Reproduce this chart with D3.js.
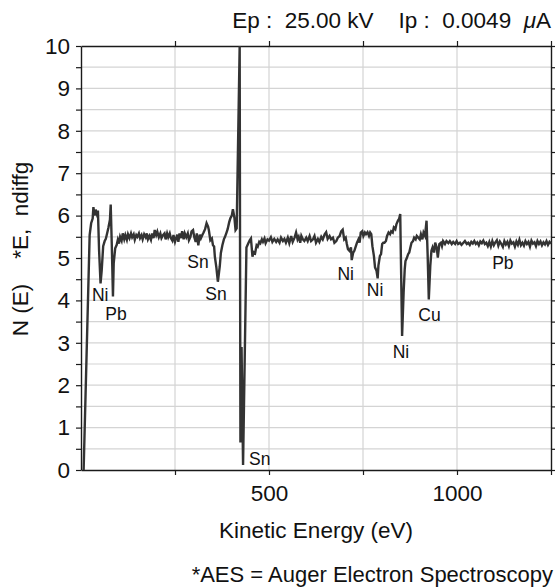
<!DOCTYPE html>
<html>
<head>
<meta charset="utf-8">
<script src="https://cdn.jsdelivr.net/npm/d3@7/dist/d3.min.js"></script>
<style>
  html, body { margin: 0; padding: 0; background: #fff; }
  svg { display: block; font-family: "Liberation Sans", Arial, Helvetica, sans-serif; }
</style>
</head>
<body>
<svg id="chart" width="555" height="588"></svg>
<script>
// AES survey spectrum: kinetic energy (eV) and N(E)*E intensity
const energy = [
  7, 23, 27, 31, 33, 36, 39, 42, 45, 48, 52, 55, 59, 63, 66, 70, 73, 77, 79, 82,
  85, 87, 91, 95, 98, 101, 104, 108, 111, 115, 118, 122, 125, 129, 133, 136, 140, 143, 147, 150,
  154, 157, 161, 164, 168, 172, 175, 178, 182, 186, 189, 193, 196, 200, 203, 207, 211, 214, 218, 222,
  225, 229, 232, 236, 239, 243, 246, 250, 256, 259, 262, 266, 269, 273, 276, 280, 284, 287, 291, 294,
  298, 301, 305, 308, 312, 316, 319, 323, 326, 330, 334, 338, 340, 344, 348, 351, 354, 356, 360, 364,
  369, 372, 376, 380, 383, 387, 390, 394, 397, 401, 404, 408, 411, 414, 422, 424, 427, 431, 440, 445,
  449, 452, 456, 459, 463, 467, 470, 474, 477, 481, 484, 488, 491, 496, 500, 505, 509, 514, 519, 523,
  528, 532, 537, 541, 545, 550, 554, 559, 563, 568, 572, 576, 579, 583, 586, 590, 594, 599, 603, 608,
  612, 617, 621, 625, 630, 634, 639, 643, 648, 652, 656, 661, 665, 670, 674, 679, 683, 688, 692, 696,
  700, 704, 707, 710, 714, 718, 720, 724, 727, 731, 734, 738, 741, 744, 748, 751, 755, 758, 762, 766,
  769, 772, 775, 779, 782, 786, 789, 791, 795, 798, 801, 804, 807, 811, 814, 818, 822, 825, 829, 832,
  836, 839, 843, 846, 849, 854, 858, 861, 863, 867, 870, 873, 876, 879, 883, 886, 890, 893, 897, 901,
  904, 908, 911, 915, 919, 922, 925, 929, 932, 935, 939, 942, 946, 949, 953, 957, 960, 963, 968, 972,
  977, 981, 986, 990, 995, 999, 1003, 1008, 1012, 1017, 1021, 1026, 1030, 1034, 1038, 1042, 1046, 1050, 1054, 1058,
  1062, 1066, 1070, 1074, 1078, 1082, 1086, 1090, 1094, 1098, 1102, 1106, 1110, 1114, 1118, 1122, 1126, 1130, 1134, 1138,
  1142, 1146, 1150, 1154, 1158, 1162, 1166, 1170, 1174, 1178, 1182, 1186, 1190, 1194, 1198, 1202, 1206, 1210, 1214, 1218,
  1222, 1226, 1230, 1234, 1238, 1242, 1246, 1250
];
const nE = [
  0.00, 5.54, 5.82, 5.93, 6.20, 6.00, 6.14, 6.04, 6.12, 5.20, 4.40, 4.70, 5.28, 5.40, 5.45, 5.60, 5.72, 5.90, 6.26, 5.27,
  4.09, 4.88, 5.23, 5.31, 5.43, 5.34, 5.50, 5.41, 5.58, 5.44, 5.54, 5.43, 5.56, 5.47, 5.58, 5.49, 5.56, 5.43, 5.54, 5.50,
  5.58, 5.47, 5.54, 5.44, 5.56, 5.49, 5.58, 5.44, 5.52, 5.43, 5.58, 5.47, 5.66, 5.54, 5.62, 5.49, 5.58, 5.47, 5.54, 5.58,
  5.44, 5.58, 5.49, 5.58, 5.47, 5.41, 5.54, 5.38, 5.55, 5.38, 5.58, 5.47, 5.63, 5.44, 5.58, 5.49, 5.58, 5.42, 5.50, 5.63,
  5.66, 5.50, 5.38, 5.58, 5.30, 5.55, 5.47, 5.55, 5.60, 5.68, 5.82, 5.74, 5.66, 5.42, 5.46, 5.30, 5.27, 5.03, 4.78, 4.44,
  4.80, 5.12, 5.30, 5.44, 5.50, 5.60, 5.68, 5.84, 5.93, 6.00, 6.15, 5.95, 5.66, 5.70, 10.00, 0.65, 2.90, 0.12, 5.25, 5.35,
  5.42, 5.46, 5.03, 5.14, 5.11, 5.30, 5.27, 5.38, 5.35, 5.44, 5.38, 5.46, 5.35, 5.44, 5.41, 5.49, 5.38, 5.45, 5.38, 5.44,
  5.36, 5.48, 5.40, 5.45, 5.36, 5.48, 5.35, 5.52, 5.38, 5.48, 5.60, 5.44, 5.50, 5.36, 5.52, 5.44, 5.40, 5.48, 5.40, 5.52,
  5.40, 5.44, 5.52, 5.36, 5.45, 5.38, 5.50, 5.44, 5.56, 5.61, 5.45, 5.52, 5.44, 5.48, 5.36, 5.40, 5.48, 5.52, 5.63, 5.67,
  5.44, 5.48, 5.33, 5.21, 5.17, 5.25, 4.95, 5.13, 5.17, 5.28, 5.36, 5.44, 5.36, 5.60, 5.63, 5.52, 5.60, 5.56, 5.61, 5.52,
  5.60, 5.56, 5.28, 5.05, 4.78, 4.70, 4.52, 4.82, 5.05, 5.09, 5.33, 5.36, 5.36, 5.40, 5.52, 5.60, 5.56, 5.63, 5.60, 5.72,
  5.68, 5.80, 5.88, 5.92, 6.04, 3.16, 4.18, 4.74, 4.93, 5.01, 5.09, 5.13, 5.25, 5.36, 5.40, 5.48, 5.44, 5.52, 5.48, 5.44,
  5.56, 5.44, 5.60, 5.52, 5.88, 5.05, 4.02, 4.82, 5.17, 5.25, 5.13, 5.36, 5.25, 5.01, 5.33, 5.36, 5.28, 5.40, 5.33, 5.40,
  5.35, 5.40, 5.33, 5.38, 5.33, 5.40, 5.33, 5.36, 5.31, 5.36, 5.40, 5.33, 5.36, 5.31, 5.38, 5.34, 5.40, 5.33, 5.37, 5.30,
  5.39, 5.35, 5.41, 5.33, 5.36, 5.28, 5.38, 5.27, 5.40, 5.30, 5.37, 5.42, 5.29, 5.39, 5.33, 5.26, 5.40, 5.32, 5.38, 5.28,
  5.41, 5.34, 5.37, 5.27, 5.39, 5.31, 5.43, 5.30, 5.36, 5.29, 5.40, 5.33, 5.38, 5.27, 5.41, 5.34, 5.37, 5.28, 5.40, 5.33,
  5.39, 5.30, 5.37, 5.32, 5.40, 5.31, 5.38, 5.34
];

// Axis ticks and their labels
const xTicks = [250, 500, 750, 1000, 1250];
const xTickLabels = ["", "500", "", "1000", ""];
const yTicks = [0, 0.5, 1, 1.5, 2, 2.5, 3, 3.5, 4, 4.5, 5, 5.5, 6, 6.5, 7, 7.5, 8, 8.5, 9, 9.5, 10];
const yTickLabels = ["0", "", "1", "", "2", "", "3", "", "4", "", "5", "", "6", "", "7", "", "8", "", "9", "", "10"];

// Element assignments: label text, energy (eV) and intensity level of the label
const peakText   = ["Ni", "Pb", "Sn", "Sn", "Sn", "Ni", "Ni", "Ni", "Cu", "Pb"];
const peakEnergy = [51, 93, 311, 359, 447, 704, 782, 851, 927, 1122];
const peakLevel  = [3.99, 3.54, 4.76, 4.01, 0.12, 4.48, 4.10, 2.65, 3.52, 4.74];

// Measurement conditions shown above the plot: [text, italic?]
const titleParts = [["Ep :  25.00 kV    Ip :  0.0049  ", false], ["\u03BC", true], ["A", false]];
const yTitle = "N (E)    *E,  ndiffg";
const xTitle = "Kinetic Energy (eV)";
const footnote = "*AES = Auger Electron Spectroscopy";

const svg = d3.select("#chart");
const plotL = 81, plotR = 551, plotT = 46, plotB = 470;
const fontSize = 22.5;

const x = d3.scaleLinear().domain([0, 1250]).range([plotL, plotR]);
const y = d3.scaleLinear().domain([0, 10]).range([plotB, plotT]);

const ink = "#1a1a1a";
const gridColor = "#d4d4d4";

// grid
svg.append("g").selectAll("line")
  .data(yTicks.filter(v => v > 0 && v < 10))
  .join("line")
  .attr("x1", plotL).attr("x2", plotR)
  .attr("y1", d => y(d)).attr("y2", d => y(d))
  .attr("stroke", gridColor).attr("stroke-width", 1.2);
svg.append("g").selectAll("line")
  .data(xTicks.filter(v => v < 1250))
  .join("line")
  .attr("x1", d => x(d)).attr("x2", d => x(d))
  .attr("y1", plotT).attr("y2", plotB)
  .attr("stroke", gridColor).attr("stroke-width", 1.2);

// axes
function styleAxis(g) {
  g.selectAll("path.domain").attr("stroke", ink).attr("stroke-width", 1.4);
  g.selectAll(".tick line").attr("stroke", ink).attr("stroke-width", 1.2);
  g.selectAll(".tick text").attr("fill", "#111").attr("font-size", fontSize)
    .attr("font-family", "'Liberation Sans', Arial, Helvetica, sans-serif");
}

svg.append("g").attr("transform", `translate(0,${plotB})`)
  .call(d3.axisBottom(x).tickValues(xTicks).tickSize(5).tickSizeOuter(0).tickPadding(10)
    .tickFormat((d, i) => xTickLabels[i]))
  .call(styleAxis);
svg.append("g").attr("transform", `translate(0,${plotT})`)
  .call(d3.axisTop(x).tickValues(xTicks).tickSize(5).tickSizeOuter(0).tickFormat(""))
  .call(styleAxis);
svg.append("g").attr("transform", `translate(${plotL},0)`)
  .call(d3.axisLeft(y).tickValues(yTicks).tickSize(5).tickSizeOuter(0).tickPadding(6)
    .tickFormat((d, i) => yTickLabels[i]))
  .call(styleAxis);
svg.append("g").attr("transform", `translate(${plotR},0)`)
  .call(d3.axisRight(y).tickValues(yTicks).tickSize(4).tickSizeOuter(0).tickFormat(""))
  .call(styleAxis);

// spectrum
const points = energy.map((e, i) => [e, nE[i]]);
svg.append("path")
  .datum(points)
  .attr("fill", "none")
  .attr("stroke", "#333")
  .attr("stroke-width", 2.4)
  .attr("d", d3.line().x(d => x(d[0])).y(d => y(d[1])));

// element labels
svg.append("g").selectAll("text")
  .data(peakText)
  .join("text")
  .attr("x", (d, i) => x(peakEnergy[i]))
  .attr("y", (d, i) => y(peakLevel[i]))
  .attr("text-anchor", (d, i) => peakLevel[i] < 1 ? "start" : "middle")
  .attr("font-size", 17.5)
  .attr("fill", "#111")
  .text(d => d);

// titles
const title = svg.append("text")
  .attr("x", 551).attr("y", 28)
  .attr("text-anchor", "end")
  .attr("font-size", fontSize).attr("fill", "#111")
  .style("white-space", "pre");
title.selectAll("tspan")
  .data(titleParts)
  .join("tspan")
  .attr("font-style", d => d[1] ? "italic" : "normal")
  .text(d => d[0]);

svg.append("text")
  .attr("transform", `translate(28,249) rotate(-90)`)
  .attr("text-anchor", "middle")
  .attr("font-size", fontSize).attr("fill", "#111")
  .style("white-space", "pre")
  .text(yTitle);

svg.append("text")
  .attr("x", (plotL + plotR) / 2).attr("y", 538)
  .attr("text-anchor", "middle")
  .attr("font-size", fontSize).attr("fill", "#111")
  .text(xTitle);

svg.append("text")
  .attr("x", 553).attr("y", 582)
  .attr("text-anchor", "end")
  .attr("font-size", 22).attr("fill", "#111")
  .text(footnote);
</script>
</body>
</html>
